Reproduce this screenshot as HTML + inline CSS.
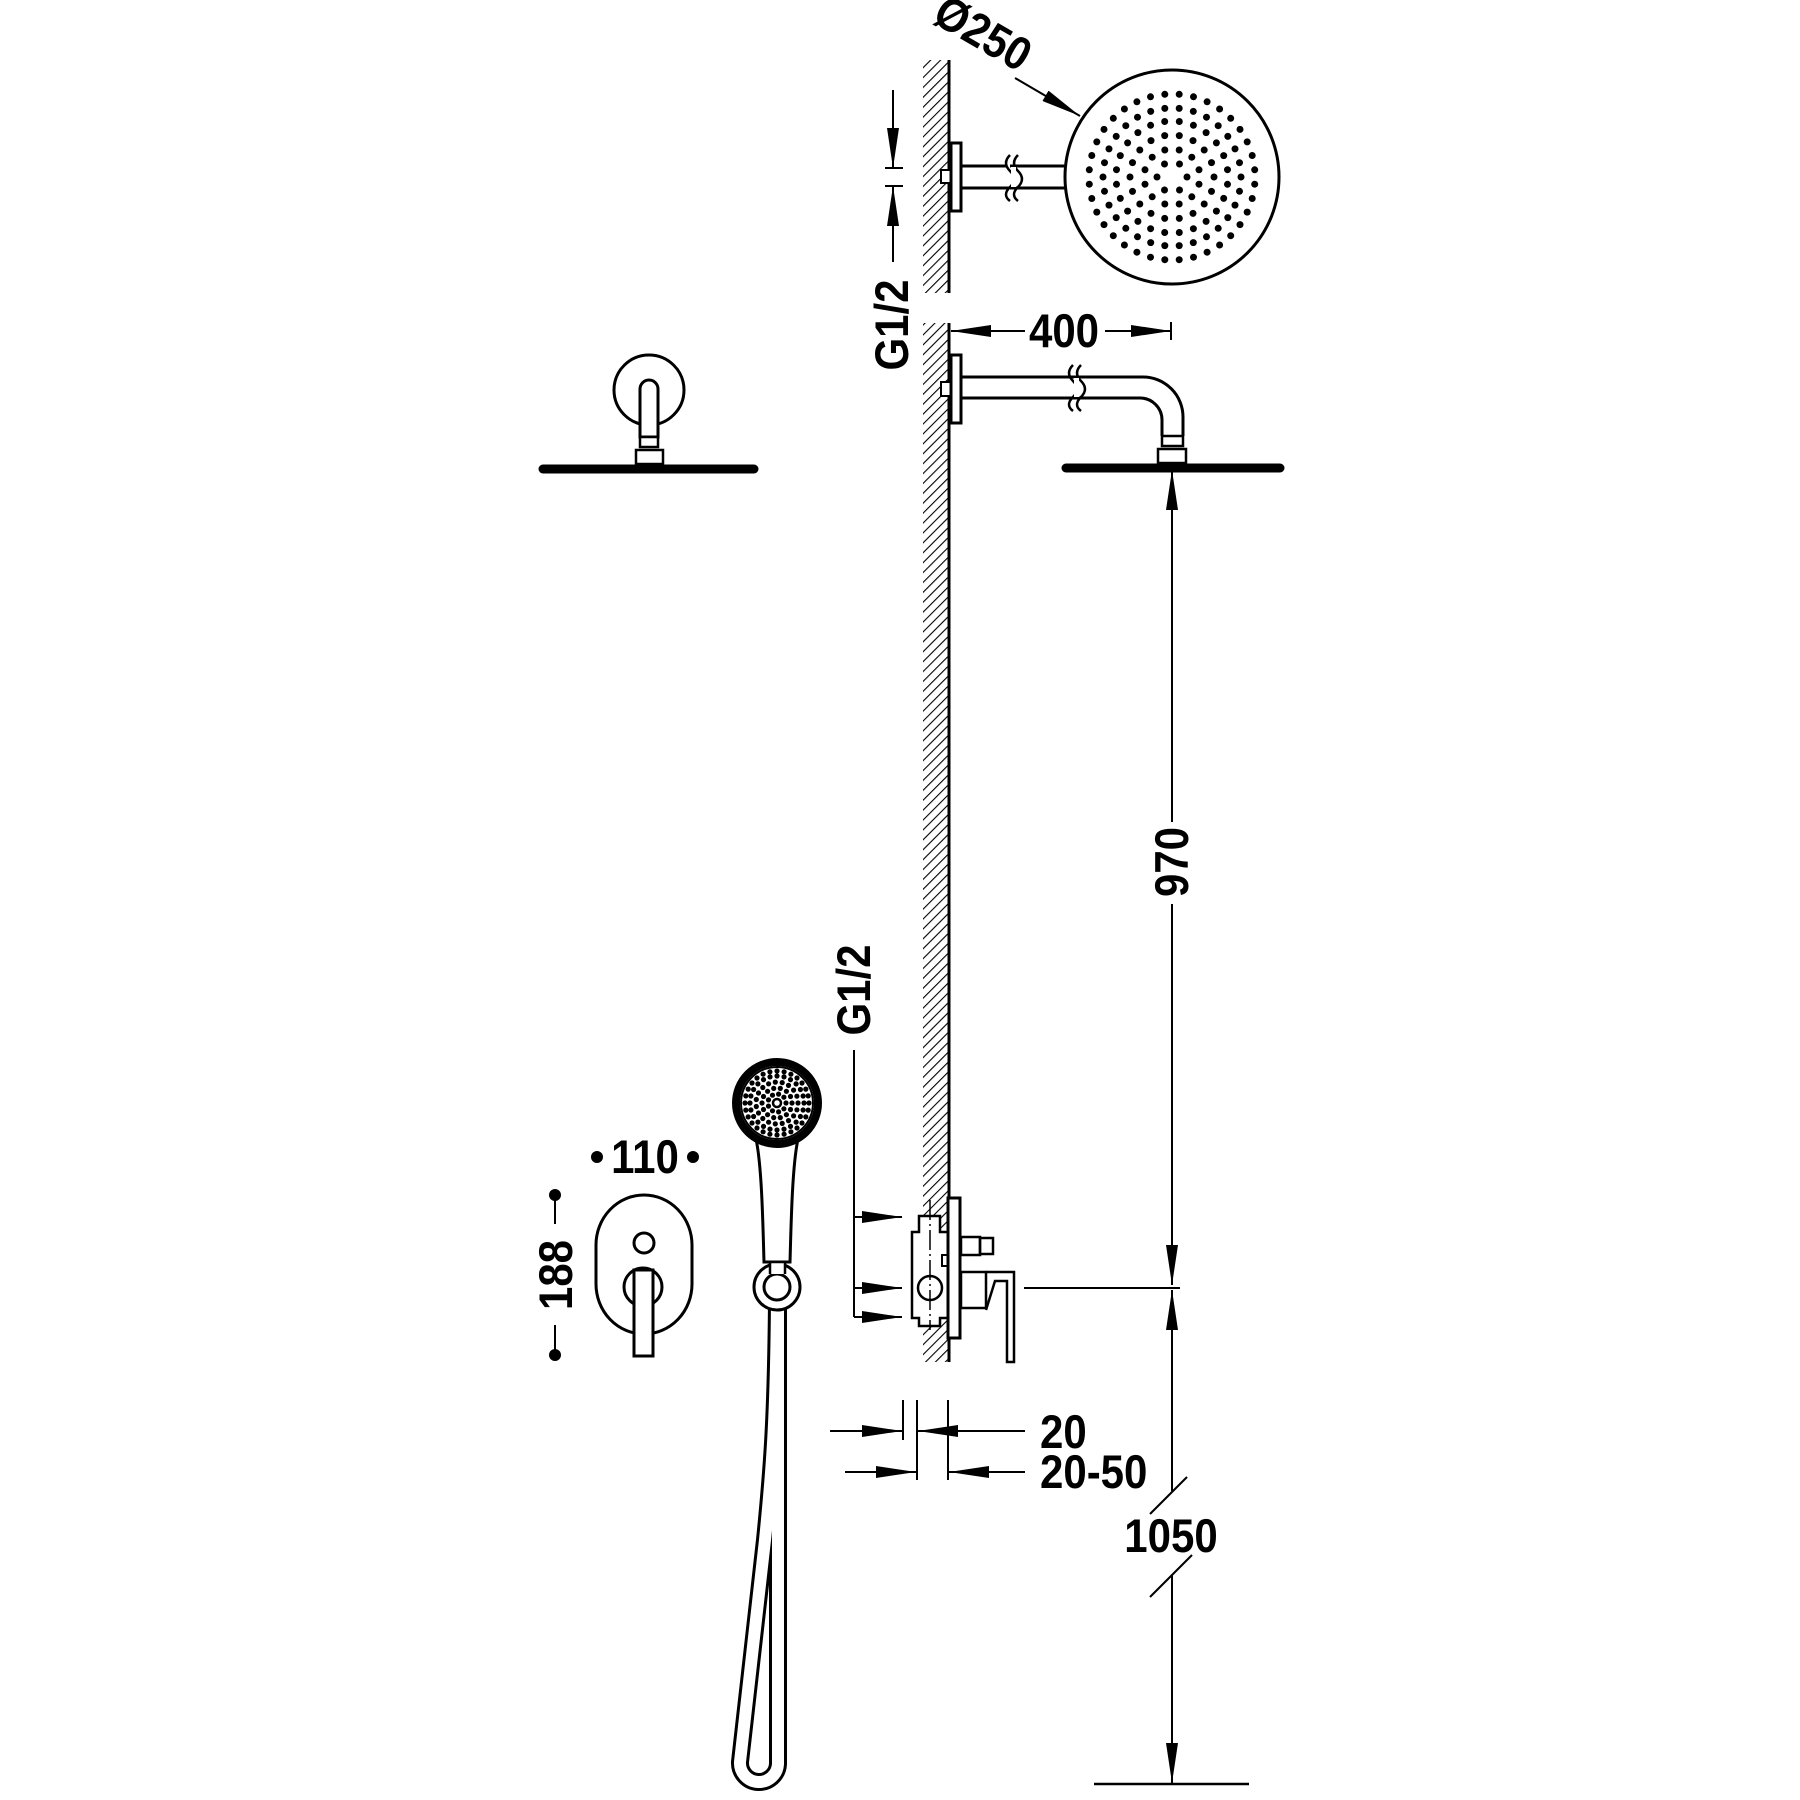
<!DOCTYPE html>
<html><head><meta charset="utf-8"><style>
html,body{margin:0;padding:0;background:#fff}
svg{display:block}
text{font-family:"Liberation Sans",sans-serif;font-weight:bold;fill:#000}
</style></head><body>
<svg id="s" width="1800" height="1800" viewBox="0 0 1800 1800" xmlns="http://www.w3.org/2000/svg">
<defs>
<pattern id="h" width="7" height="7" patternUnits="userSpaceOnUse" patternTransform="rotate(45)">
<line x1="0" y1="0" x2="0" y2="7" stroke="#000" stroke-width="2.2"/>
</pattern>
<marker id="ab" viewBox="0 0 40 12" refX="40" refY="6" markerWidth="40" markerHeight="12" markerUnits="userSpaceOnUse" orient="auto"><path d="M0,0 L40,6 L0,12 Z"/></marker>
</defs>
<g fill="none" stroke="#000" stroke-width="3">
<rect x="923" y="60" width="26" height="233" fill="url(#h)" stroke="none"/>
<rect x="923" y="323" width="26" height="1039" fill="url(#h)" stroke="none"/>
<line x1="949" y1="60" x2="949" y2="293"/>
<line x1="949" y1="323" x2="949" y2="1362"/>

<rect x="941" y="170" width="10" height="13" fill="#fff" stroke-width="2"/>
<rect x="951" y="143" width="10" height="68" fill="#fff"/>
<line x1="961" y1="166" x2="1066" y2="166"/>
<line x1="961" y1="188" x2="1066" y2="188"/>
<path d="M1010,155 q-8,8 0,16 q8,8 0,16 q-8,8 0,14" stroke-width="2.5" fill="#fff"/>
<path d="M1018,155 q-8,8 0,16 q8,8 0,16 q-8,8 0,14" stroke-width="2.5"/>
<rect x="1011" y="167" width="5" height="20" fill="#fff" stroke="none"/>
<circle cx="1172" cy="177" r="107" fill="#fff"/>
<g id="dots" fill="#000" stroke="none"></g>
<line x1="1015" y1="78" x2="1080" y2="116" stroke-width="2" marker-end="url(#ab)"/>

<line x1="893" y1="90" x2="893" y2="168" stroke-width="2" marker-end="url(#ab)"/>
<line x1="893" y1="262" x2="893" y2="186" stroke-width="2" marker-end="url(#ab)"/>
<line x1="885" y1="168" x2="903" y2="168" stroke-width="2"/>
<line x1="885" y1="186" x2="903" y2="186" stroke-width="2"/>

<line x1="1025" y1="331" x2="951" y2="331" stroke-width="2" marker-end="url(#ab)"/>
<line x1="1105" y1="331" x2="1171" y2="331" stroke-width="2" marker-end="url(#ab)"/>
<line x1="1171" y1="322" x2="1171" y2="340" stroke-width="2"/>

<rect x="941" y="382" width="10" height="14" fill="#fff" stroke-width="2"/>
<rect x="951" y="355" width="10" height="68" fill="#fff"/>
<path d="M961,377 L1143,377 A40,40 0 0 1 1183,417 L1183,436"/>
<path d="M961,398 L1140,398 A22,22 0 0 1 1162,420 L1162,436"/>
<path d="M1073,365 q-8,8 0,16 q8,8 0,16 q-8,8 0,14" stroke-width="2.5"/>
<path d="M1081,365 q-8,8 0,16 q8,8 0,16 q-8,8 0,14" stroke-width="2.5"/>
<rect x="1074" y="378" width="5" height="19" fill="#fff" stroke="none"/>
<rect x="1162" y="436" width="21" height="10" stroke-width="2.5"/>
<rect x="1158" y="449" width="28" height="14" stroke-width="2.5"/>
<path d="M1066,468 L1280,468" stroke-width="9" stroke-linecap="round"/>

<circle cx="649" cy="390" r="35" fill="#fff"/>
<path d="M640,437 L640,389 A9,9 0 0 1 658,389 L658,437 Z" fill="#fff"/>
<rect x="640" y="437" width="18" height="10" stroke-width="2.5" fill="#fff"/>
<rect x="636" y="450" width="27" height="14" stroke-width="2.5"/>
<path d="M543,469 L754,469" stroke-width="9" stroke-linecap="round"/>

<line x1="1172" y1="822" x2="1172" y2="470" stroke-width="2" marker-end="url(#ab)"/>
<line x1="1172" y1="904" x2="1172" y2="1285" stroke-width="2" marker-end="url(#ab)"/>
<line x1="1024" y1="1288" x2="1180" y2="1288" stroke-width="2"/>
<line x1="1172" y1="1491" x2="1172" y2="1290" stroke-width="2" marker-end="url(#ab)"/>
<line x1="1172" y1="1575" x2="1172" y2="1783" stroke-width="2" marker-end="url(#ab)"/>
<line x1="1150" y1="1514" x2="1187" y2="1477" stroke-width="2"/>
<line x1="1150" y1="1597" x2="1192" y2="1555" stroke-width="2"/>
<line x1="1094" y1="1784" x2="1249" y2="1784" stroke-width="2.5"/>

<path d="M919,1216 L940,1216 L940,1232 L948,1232 L948,1318 L940,1318 L940,1326 L919,1326 L919,1318 L912,1318 L912,1232 L919,1232 Z" fill="#fff" stroke-width="2.5"/>
<circle cx="930" cy="1288" r="12" stroke-width="2.5"/>
<line x1="930" y1="1200" x2="930" y2="1330" stroke-width="1.5" stroke-dasharray="20,4,2,4"/>
<rect x="942" y="1255" width="6" height="11" stroke-width="2"/>
<rect x="948" y="1198" width="12" height="140" fill="#fff"/>
<rect x="961" y="1237" width="19" height="18" stroke-width="2.5"/>
<rect x="980" y="1238" width="13" height="16" stroke-width="2.5"/>
<rect x="961" y="1272" width="25" height="36" stroke-width="2.5"/>
<path d="M986,1310 L995,1281 L1007,1281 L1007,1362 L1014,1362 L1014,1272 L986,1272" stroke-width="2.5"/>
<line x1="854" y1="1050" x2="854" y2="1317" stroke-width="2"/>
<line x1="854" y1="1217" x2="902" y2="1217" stroke-width="2" marker-end="url(#ab)"/>
<line x1="854" y1="1288" x2="902" y2="1288" stroke-width="2" marker-end="url(#ab)"/>
<line x1="854" y1="1317" x2="902" y2="1317" stroke-width="2" marker-end="url(#ab)"/>

<line x1="903" y1="1400" x2="903" y2="1440" stroke-width="2"/>
<line x1="917" y1="1400" x2="917" y2="1480" stroke-width="2"/>
<line x1="948" y1="1400" x2="948" y2="1480" stroke-width="2"/>
<line x1="830" y1="1431" x2="902" y2="1431" stroke-width="2" marker-end="url(#ab)"/>
<line x1="1025" y1="1431" x2="918" y2="1431" stroke-width="2" marker-end="url(#ab)"/>
<line x1="845" y1="1472" x2="916" y2="1472" stroke-width="2" marker-end="url(#ab)"/>
<line x1="1025" y1="1472" x2="949" y2="1472" stroke-width="2" marker-end="url(#ab)"/>

<rect x="596" y="1195" width="96" height="139" rx="48" ry="50" fill="#fff"/>
<circle cx="644" cy="1243" r="10"/>
<circle cx="643" cy="1287" r="19"/>
<rect x="634" y="1270" width="19" height="86" fill="#fff"/>
<circle cx="597" cy="1157" r="6" fill="#000" stroke="none"/>
<circle cx="693" cy="1157" r="6" fill="#000" stroke="none"/>
<circle cx="555" cy="1195" r="6" fill="#000" stroke="none"/>
<circle cx="555" cy="1355" r="6" fill="#000" stroke="none"/>
<line x1="555" y1="1198" x2="555" y2="1224" stroke-width="2"/>
<line x1="555" y1="1325" x2="555" y2="1352" stroke-width="2"/>

<path d="M778,1300 C778,1450 778,1600 778,1764 A19,19 0 0 1 740,1762 L765,1540 C772,1470 776,1420 777,1300" stroke-width="18"/>
<path d="M778,1300 C778,1450 778,1600 778,1764 A19,19 0 0 1 740,1762 L765,1540 C772,1470 776,1420 777,1300" stroke="#fff" stroke-width="12"/>
<path d="M755,1135 C762,1160 763,1230 764,1262 L790,1262 C791,1230 792,1160 799,1135" fill="#fff"/>
<circle cx="777" cy="1287" r="23" fill="#fff"/>
<circle cx="777" cy="1287" r="13" fill="#fff"/>
<path d="M770,1274 L770,1262 L785,1262 L785,1274" fill="#fff" stroke-width="2.5"/>
<circle cx="777" cy="1103" r="41" fill="#fff" stroke-width="8"/>
<circle cx="777" cy="1103" r="36" stroke-width="2"/>
<circle cx="777" cy="1103" r="4" stroke-width="2.5"/>
<g id="hd" fill="#000" stroke="none"></g>
</g>

<text x="0" y="0" font-size="42" text-anchor="middle" transform="translate(975,47) rotate(30) scale(1,1.12)">Ø250</text>
<text x="0" y="0" font-size="42" text-anchor="middle" transform="translate(1064,347) scale(1,1.12)">400</text>
<text x="0" y="0" font-size="42" text-anchor="middle" transform="translate(908,325) rotate(-90) scale(1,1.12)">G1/2</text>
<text x="0" y="0" font-size="42" text-anchor="middle" transform="translate(870,990) rotate(-90) scale(1,1.12)">G1/2</text>
<text x="0" y="0" font-size="42" text-anchor="middle" transform="translate(1188,862) rotate(-90) scale(1,1.12)">970</text>
<text x="0" y="0" font-size="42" text-anchor="middle" transform="translate(1171,1552) scale(1,1.12)">1050</text>
<text x="0" y="0" font-size="42" transform="translate(1040,1448) scale(1,1.12)">20</text>
<text x="0" y="0" font-size="42" transform="translate(1040,1488) scale(1,1.12)">20-50</text>
<text x="0" y="0" font-size="42" text-anchor="middle" transform="translate(645,1173) scale(1,1.12)">110</text>
<text x="0" y="0" font-size="42" text-anchor="middle" transform="translate(572,1275) rotate(-90) scale(1,1.12)">188</text>
</svg>
<script>
(function(){
var ns="http://www.w3.org/2000/svg";
function dot(g,x,y,r){var c=document.createElementNS(ns,"circle");c.setAttribute("cx",x.toFixed(1));c.setAttribute("cy",y.toFixed(1));c.setAttribute("r",r);g.appendChild(c);}
var g=document.getElementById("dots");
var rings=[[15,6,0],[28,12,15],[42,18,0],[56,24,7.5],[69,30,0],[83,36,5]];
rings.forEach(function(rg){for(var i=0;i<rg[1];i++){var a=(i*360/rg[1]+rg[2])*Math.PI/180;dot(g,1172+rg[0]*Math.cos(a),177+rg[0]*Math.sin(a),3.5);}});
var h=document.getElementById("hd");
[[9,9],[15,14],[21,19],[27,24],[32,28]].forEach(function(rg){for(var i=0;i<rg[1];i++){var a=i*2*Math.PI/rg[1];dot(h,777+rg[0]*Math.cos(a),1103+rg[0]*Math.sin(a),2.6);}});
})();
</script>
</body></html>
